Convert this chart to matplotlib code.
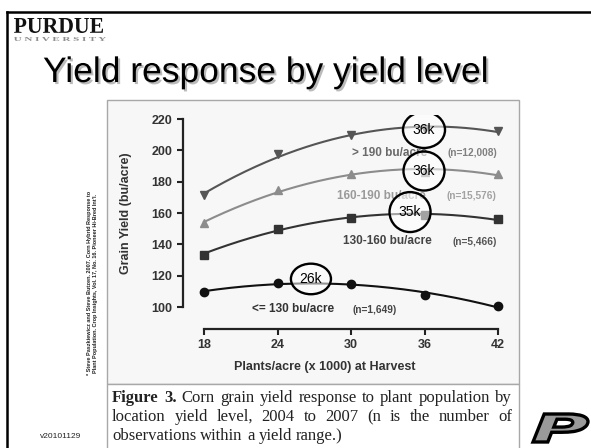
import numpy as np
import matplotlib
matplotlib.use("Agg")
import matplotlib.pyplot as plt
from matplotlib.patches import Rectangle, Ellipse, PathPatch
from matplotlib.textpath import TextPath
from matplotlib.font_manager import FontProperties
from matplotlib.path import Path
import matplotlib.patheffects as pe

# ---------------- data ----------------
plants = [18, 24, 30, 36, 42]
yield_gt190 = [171.5, 197.5, 209.5, 213.5, 212.5]
yield_160_190 = [153.5, 174.5, 185.0, 186.0, 185.0]
yield_130_160 = [133.5, 150.0, 157.0, 158.5, 156.0]
yield_le130 = [109.5, 115.5, 115.0, 107.5, 100.5]

series_names = ["> 190 bu/acre", "160-190 bu/acre", "130-160 bu/acre", "<= 130 bu/acre"]
series_n = ["(n=12,008)", "(n=15,576)", "(n=5,466)", "(n=1,649)"]
xticks = [18, 24, 30, 36, 42]
yticks = [100, 120, 140, 160, 180, 200, 220]

circle_labels = ["36k", "36k", "35k", "26k"]
circle_x = [35.96, 35.96, 34.82, 26.73]
circle_y = [213.0, 186.8, 160.6, 117.9]

title = "Yield response by yield level"
xlabel = "Plants/acre (x 1000) at Harvest"
ylabel = "Grain Yield (bu/acre)"
caption_lines = [
    [("Figure", True), ("3.", True), ("Corn", False), ("grain", False), ("yield", False),
     ("response", False), ("to", False), ("plant", False), ("population", False), ("by", False)],
    [("location", False), ("yield", False), ("level,", False), ("2004", False), ("to", False),
     ("2007", False), ("(n", False), ("is", False), ("the", False), ("number", False), ("of", False)],
    [("observations", False), ("within", False), ("a", False), ("yield", False), ("range.)", False)],
]
citation = ["* Steve Paszkiewicz and Steve Butzen. 2007. Corn Hybrid Response to",
            "Plant Population. Crop Insights, Vol. 17, No. 16. Pioneer Hi-Bred Int'l."]
version = "v20101129"

# ---------------- figure ----------------
W, H = 591, 448
fig = plt.figure(figsize=(W / 100, H / 100), dpi=100)
fig.patch.set_facecolor("white")

def fx(px):
    return px / W

def fy(py):
    return 1 - py / H

# slide border
fig.add_artist(plt.Line2D([fx(7), fx(591)], [fy(12), fy(12)], color="black", lw=1.8))
fig.add_artist(plt.Line2D([fx(7), fx(7)], [fy(12), fy(448)], color="black", lw=1.8))

# chart image box
fig.add_artist(Rectangle((fx(107), fy(384)), fx(519) - fx(107), fy(100) - fy(384),
                         transform=fig.transFigure, facecolor="#f7f7f7", edgecolor="#a8a8a8", lw=1.0, zorder=0))
fig.add_artist(Rectangle((fx(107), fy(450)), fx(519) - fx(107), fy(384) - fy(450),
                         transform=fig.transFigure, facecolor="white", edgecolor="#a8a8a8", lw=1.0, zorder=0))

def fitted_text(s, box, prop, face, edge=None, lw=0.0):
    tp = TextPath((0, 0), s, size=10, prop=prop)
    v = tp.vertices.copy()
    bb = tp.get_extents()
    x0, y0, x1, y1 = box
    vx = x0 + (v[:, 0] - bb.x0) / bb.width * (x1 - x0)
    vy = y1 - (v[:, 1] - bb.y0) / bb.height * (y1 - y0)
    path = Path(np.column_stack([fx(vx), fy(vy)]), tp.codes)
    patch = PathPatch(path, transform=fig.transFigure, facecolor=face,
                      edgecolor=edge if edge else "none", lw=lw)
    fig.add_artist(patch)

# Purdue wordmark
fitted_text("PURDUE", (14, 18, 103, 33), FontProperties(family="Liberation Serif", weight="bold"), "#111111")
fitted_text("U N I V E R S I T Y", (14, 37, 106, 41), FontProperties(family="Liberation Serif", weight="bold"), "#8a8a8a")
# Purdue P logo
fitted_text("P", (533, 414, 588, 442), FontProperties(family="DejaVu Sans", weight="bold", style="oblique"),
            "#9a9a9a", edge="black", lw=2.4)

# title
fig.text(fx(43), fy(82), title, fontsize=25.5, family="Liberation Sans", va="baseline", ha="left",
         color="black",
         path_effects=[pe.withSimplePatchShadow(offset=(1.5, -1.5), shadow_rgbFace="#aaaaaa", alpha=0.8)])

# ---------------- axes ----------------
ax_l, ax_r, ax_t, ax_b = 183, 506, 115, 329
ax = fig.add_axes([fx(ax_l), fy(ax_b), fx(ax_r) - fx(ax_l), fy(ax_t) - fy(ax_b)])
ax.patch.set_alpha(0)
ppx = (498 - 204) / 24.0
ppy = (307 - 119) / 120.0
ax.set_xlim(18 - (204 - ax_l) / ppx, 42 + (ax_r - 498) / ppx)
ax.set_ylim(100 - (ax_b - 307) / ppy, 220 + (119 - ax_t) / ppy)

for s in ["top", "right"]:
    ax.spines[s].set_visible(False)
ax.spines["left"].set_bounds(100, 220)
ax.spines["bottom"].set_bounds(18, 42)
for s in ["left", "bottom"]:
    ax.spines[s].set_linewidth(1.6)
    ax.spines[s].set_color("#222222")
ax.set_xticks(xticks)
ax.set_yticks(yticks)
ax.tick_params(axis="both", length=4.5, width=1.5, color="#222222", labelsize=9, labelcolor="#333333", pad=3)
for lab in ax.get_xticklabels() + ax.get_yticklabels():
    lab.set_fontweight("bold")
    lab.set_family("Liberation Sans")

series = [yield_gt190, yield_160_190, yield_130_160, yield_le130]
colors = ["#555555", "#8c8c8c", "#333333", "#111111"]
markers = ["v", "^", "s", "o"]
msizes = [6.3, 6.3, 6.0, 6.0]
xs = np.linspace(18, 42, 200)
for ys, c, m, ms in zip(series, colors, markers, msizes):
    coef = np.polyfit(plants, ys, 2)
    ax.plot(xs, np.polyval(coef, xs), color=c, lw=1.5, zorder=2)
    ax.plot(plants, ys, linestyle="none", marker=m, ms=ms, color=c, zorder=3)

# series labels
name_pos = [(30.1, 198.3), (28.86, 170.9), (29.35, 142.1), (21.9, 98.7)]
n_pos = [(41.9, 198.3, "right"), (41.9, 170.9, "right"), (41.9, 141.7, "right"), (30.1, 98.3, "left")]
name_cols = ["#6a6a6a", "#9a9a9a", "#444444", "#333333"]
n_cols = ["#808080", "#a2a2a2", "#555555", "#444444"]
for name, nn, (nx, ny), (px_, py_, ha), c1, c2 in zip(series_names, series_n, name_pos, n_pos, name_cols, n_cols):
    ax.text(nx, ny, name, fontsize=8.5, fontweight="bold", color=c1, va="center", ha="left",
            family="Liberation Sans", zorder=4)
    ax.text(px_, py_, nn, fontsize=7.3, fontweight="bold", color=c2, va="center", ha=ha,
            family="Liberation Sans", zorder=4)

# circles
circ_w = [3.43, 3.35, 3.35, 3.27]
circ_h = [23.0, 24.9, 25.5, 19.5]
for lab, cx, cy, w, h in zip(circle_labels, circle_x, circle_y, circ_w, circ_h):
    ax.add_patch(Ellipse((cx, cy), w, h, facecolor=(1, 1, 1, 0.55), edgecolor="black", lw=1.7, zorder=5))
    ax.text(cx, cy, lab, fontsize=10, ha="center", va="center", family="Liberation Sans", color="black", zorder=6)

# axis titles
fig.text(fx(325), fy(367), xlabel, fontsize=9, fontweight="bold", color="#333333", ha="center", va="center",
         family="Liberation Sans")
fig.text(fx(126), fy(213), ylabel, fontsize=9, fontweight="bold", color="#333333", ha="center", va="center",
         rotation=90, family="Liberation Sans")

# citation (rotated)
fig.text(fx(89.5), fy(283), citation[0], fontsize=4.0, fontweight="bold", rotation=90, ha="center", va="center",
         family="Liberation Sans", color="#222222")
fig.text(fx(95), fy(283), citation[1], fontsize=4.0, fontweight="bold", rotation=90, ha="center", va="center",
         family="Liberation Sans", color="#222222")

fig.text(fx(40), fy(436), version, fontsize=6, ha="left", va="center", family="Liberation Sans", color="#222222")

# caption with justification
renderer = fig.canvas.get_renderer()
cap_left, cap_right = 112, 512
baselines = [402, 421, 440]
for li, (words, base) in enumerate(zip(caption_lines, baselines)):
    texts = []
    widths = []
    for w_, b in words:
        t = fig.text(0, fy(base), w_, fontsize=12, family="Liberation Serif",
                     fontweight="bold" if b else "normal", va="baseline", ha="left", color="#222222")
        texts.append(t)
        widths.append(t.get_window_extent(renderer).width)
    if li < len(caption_lines) - 1:
        gap = (cap_right - cap_left - sum(widths)) / (len(words) - 1)
    else:
        sp = fig.text(0, 0, "a a", fontsize=12, family="Liberation Serif")
        sa = fig.text(0, 0, "aa", fontsize=12, family="Liberation Serif")
        gap = sp.get_window_extent(renderer).width - sa.get_window_extent(renderer).width
        sp.remove(); sa.remove()
    x = cap_left
    for t, w_ in zip(texts, widths):
        t.set_x(fx(x))
        x += w_ + gap

fig.savefig("out.png", dpi=100, facecolor="white")
